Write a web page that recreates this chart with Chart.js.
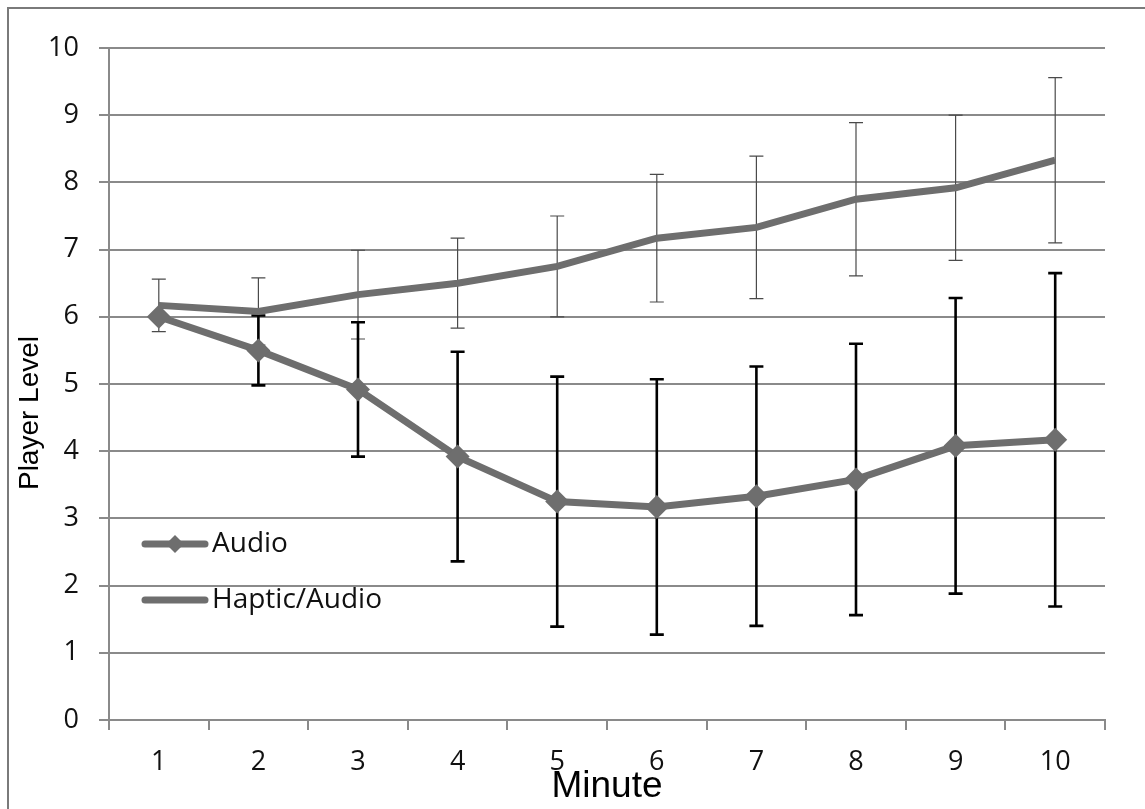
<!DOCTYPE html>
<html>
<head>
<meta charset="utf-8">
<script src="https://cdn.jsdelivr.net/npm/chart.js@4"></script>
<style>
  html, body { margin: 0; padding: 0; background: #fff; }
  #wrap { width: 1145px; height: 809px; position: relative; }
</style>
</head>
<body>
<div id="wrap"><canvas id="line-chart" width="1145" height="809"></canvas></div>
<script>
// values
const minutes = ['1', '2', '3', '4', '5', '6', '7', '8', '9', '10'];
const audio = [6.0, 5.5, 4.92, 3.92, 3.25, 3.17, 3.33, 3.58, 4.08, 4.17];
const audioErr = [0, 0.52, 1.0, 1.56, 1.86, 1.9, 1.93, 2.02, 2.2, 2.48];
const haptic = [6.17, 6.08, 6.33, 6.5, 6.75, 7.17, 7.33, 7.75, 7.92, 8.33];
const hapticErr = [0.39, 0.5, 0.66, 0.67, 0.75, 0.95, 1.06, 1.14, 1.08, 1.23];
const yTicks = [0, 1, 2, 3, 4, 5, 6, 7, 8, 9, 10];

const lineGray = '#6e6e6e';
const gridGray = '#8a8a8a';
const tickFont = { family: 'Open Sans', size: 27 };

// error bars drawn under the lines, using the chart scales
const errorBars = {
  id: 'errorBars',
  beforeDatasetsDraw(chart) {
    const { ctx, scales: { x, y } } = chart;
    const sets = [
      { vals: haptic, err: hapticErr, color: '#4a4a4a', width: 1.2 },
      { vals: audio, err: audioErr, color: '#000', width: 2.6 }
    ];
    ctx.save();
    sets.forEach(s => {
      ctx.strokeStyle = s.color;
      ctx.lineWidth = s.width;
      s.vals.forEach((v, i) => {
        if (!s.err[i]) return;
        const px = x.getPixelForValue(i);
        const top = y.getPixelForValue(v + s.err[i]);
        const bot = y.getPixelForValue(v - s.err[i]);
        ctx.beginPath();
        ctx.moveTo(px, top); ctx.lineTo(px, bot);
        ctx.moveTo(px - 7, top); ctx.lineTo(px + 7, top);
        ctx.moveTo(px - 7, bot); ctx.lineTo(px + 7, bot);
        ctx.stroke();
      });
    });
    ctx.restore();
  }
};

// legend inside the plot, y title, outer frame
const extras = {
  id: 'extras',
  afterDraw(chart) {
    const ctx = chart.ctx;
    ctx.save();
    ctx.strokeStyle = '#7a7a7a';
    ctx.lineWidth = 2;
    ctx.strokeRect(8, 8, 1300, 1000);

    // y axis title sits a bit below the middle of the axis
    ctx.save();
    ctx.translate(30, 413);
    ctx.rotate(-Math.PI / 2);
    ctx.fillStyle = '#000';
    ctx.font = '28px "Liberation Sans"';
    ctx.textAlign = 'center';
    ctx.textBaseline = 'middle';
    ctx.fillText('Player Level', 0, 0);
    ctx.restore();

    const items = [
      { label: 'Audio', y: 544, marker: true },
      { label: 'Haptic/Audio', y: 600, marker: false }
    ];
    items.forEach(it => {
      ctx.strokeStyle = lineGray;
      ctx.lineWidth = 7;
      ctx.lineCap = 'round';
      ctx.beginPath();
      ctx.moveTo(145, it.y); ctx.lineTo(205, it.y);
      ctx.stroke();
      if (it.marker) {
        ctx.fillStyle = lineGray;
        ctx.beginPath();
        ctx.moveTo(175 - 9, it.y); ctx.lineTo(175, it.y - 9);
        ctx.lineTo(175 + 9, it.y); ctx.lineTo(175, it.y + 9);
        ctx.closePath();
        ctx.fill();
      }
      ctx.fillStyle = '#111';
      ctx.font = '28px "Open Sans"';
      ctx.textBaseline = 'middle';
      ctx.fillText(it.label, 212, it.y);
    });
    ctx.restore();
  }
};

new Chart(document.getElementById('line-chart'), {
  type: 'line',
  data: {
    labels: minutes,
    datasets: [{
      label: 'Audio',
      data: audio,
      borderColor: lineGray,
      backgroundColor: lineGray,
      borderWidth: 7,
      pointStyle: 'rectRot',
      pointRadius: 12,
      pointBorderWidth: 0,
      tension: 0
    }, {
      label: 'Haptic/Audio',
      data: haptic,
      borderColor: lineGray,
      backgroundColor: lineGray,
      borderWidth: 7,
      pointRadius: 0,
      tension: 0
    }]
  },
  options: {
    responsive: false,
    animation: false,
    layout: { padding: { top: 48, right: 40, left: 0, bottom: 0 } },
    plugins: { legend: { display: false }, tooltip: { enabled: false } },
    scales: {
      x: {
        offset: true,
        grid: { offset: true, drawOnChartArea: false, tickLength: 10, color: gridGray, lineWidth: 2 },
        border: { color: gridGray, width: 2 },
        ticks: { font: tickFont, color: '#111', padding: 16, maxRotation: 0 },
        title: { display: true, text: 'Minute', font: { family: 'Liberation Sans', size: 37 }, color: '#000', padding: { top: 0, bottom: 0 } },
        afterFit: (scale) => { scale.height = 89; }
      },
      y: {
        min: 0,
        max: 10,
        afterBuildTicks: (scale) => { scale.ticks = yTicks.map(v => ({ value: v })); },
        grid: { tickLength: 10, color: gridGray, lineWidth: 2 },
        border: { color: gridGray, width: 2 },
        ticks: { font: tickFont, color: '#111', padding: 20 },
        afterFit: (scale) => { scale.width = 109; }
      }
    }
  },
  plugins: [errorBars, extras]
});
</script>
</body>
</html>
